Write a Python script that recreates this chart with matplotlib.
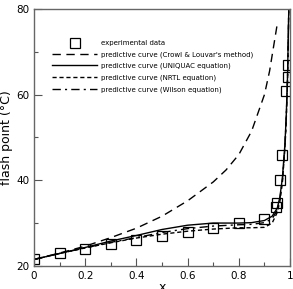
import matplotlib
matplotlib.use("Agg")
import matplotlib.pyplot as plt
from matplotlib.ticker import MultipleLocator, FuncFormatter

# experimental flash points
exp_x = [0.0, 0.1, 0.2, 0.3, 0.4, 0.5, 0.6, 0.7, 0.8, 0.9, 0.945, 0.95, 0.96, 0.97, 0.985, 0.99, 0.992]
exp_y = [21.6, 23.0, 24.0, 25.0, 26.1, 27.0, 28.0, 28.9, 30.1, 31.0, 33.8, 34.6, 40.1, 45.9, 60.9, 64.2, 66.9]

# predictive curve (Crowl & Louvar's method)
crowl_x = [0.0, 0.1, 0.2, 0.3, 0.4, 0.5, 0.6, 0.7, 0.75, 0.8, 0.85, 0.9, 0.92, 0.95]
crowl_y = [21.5, 23.0, 24.6, 26.6, 28.8, 31.6, 35.2, 39.6, 42.4, 46.0, 51.5, 60.0, 65.5, 76.5]

# predictive curve (UNIQUAC equation)
uniq_x = [0.0, 0.1, 0.2, 0.3, 0.4, 0.5, 0.6, 0.7, 0.8, 0.85, 0.9, 0.93, 0.95, 0.96, 0.97, 0.98, 0.985, 0.99, 0.995]
uniq_y = [21.5, 22.9, 24.3, 25.8, 27.1, 28.5, 29.5, 30.0, 30.0, 30.1, 30.6, 31.6, 33.5, 36.0, 40.5, 48.5, 55.0, 64.0, 80.0]

# predictive curve (NRTL equation)
nrtl_x = [0.0, 0.1, 0.2, 0.3, 0.4, 0.5, 0.6, 0.7, 0.8, 0.85, 0.9, 0.93, 0.95, 0.96, 0.97, 0.98, 0.985, 0.99, 0.995]
nrtl_y = [21.5, 22.9, 24.2, 25.4, 26.5, 27.4, 28.1, 28.6, 28.9, 28.9, 29.0, 30.0, 32.5, 35.0, 39.5, 47.5, 54.0, 63.0, 80.0]

# predictive curve (Wilson equation)
wils_x = [0.0, 0.1, 0.2, 0.3, 0.4, 0.5, 0.6, 0.7, 0.8, 0.85, 0.9, 0.93, 0.95, 0.96, 0.97, 0.98, 0.985, 0.99, 0.995]
wils_y = [21.5, 22.9, 24.2, 25.5, 26.6, 27.8, 28.7, 29.3, 29.6, 29.7, 30.1, 31.0, 33.0, 35.5, 40.0, 48.0, 54.5, 63.5, 80.0]

fig = plt.figure(figsize=(2.93, 2.89), dpi=100)
ax = fig.add_axes([0.116, 0.080, 0.874, 0.889])

ax.plot(exp_x, exp_y, "s", mfc="none", mec="black", ms=7.5, mew=0.9,
        label="experimental data")
ax.plot(crowl_x, crowl_y, color="black", lw=1.0, dashes=(6, 4),
        label="predictive curve (Crowl & Louvar's method)")
ax.plot(uniq_x, uniq_y, color="black", lw=1.0,
        label="predictive curve (UNIQUAC equation)")
ax.plot(nrtl_x, nrtl_y, color="black", lw=1.0, dashes=(3, 2),
        label="predictive curve (NRTL equation)")
ax.plot(wils_x, wils_y, color="black", lw=1.0, dashes=(6, 3, 1.5, 3),
        label="predictive curve (Wilson equation)")

ax.set_xlim(0, 1)
ax.set_ylim(20, 80)
ax.xaxis.set_major_locator(MultipleLocator(0.2))
ax.xaxis.set_minor_locator(MultipleLocator(0.1))
ax.yaxis.set_major_locator(MultipleLocator(20))
ax.yaxis.set_minor_locator(MultipleLocator(10))
ax.xaxis.set_major_formatter(FuncFormatter(lambda v, p: f"{v:g}"))
ax.tick_params(which="both", direction="in", top=False, right=False,
               color="#555555", labelsize=7.5, width=0.8)
ax.tick_params(which="major", length=6)
ax.tick_params(which="minor", length=3)
for s in ax.spines.values():
    s.set_color("#666666")
    s.set_linewidth(1.0)

ax.set_ylabel("flash point (\u00b0C)", fontsize=9, labelpad=2)
ax.set_xlabel("x", fontsize=9, labelpad=0)

ax.legend(loc="upper left", bbox_to_anchor=(0.06, 0.89), frameon=False,
          fontsize=5, handlelength=6.5, handletextpad=0.6,
          labelspacing=0.75, borderaxespad=0)

fig.savefig("out.png", dpi=100)
